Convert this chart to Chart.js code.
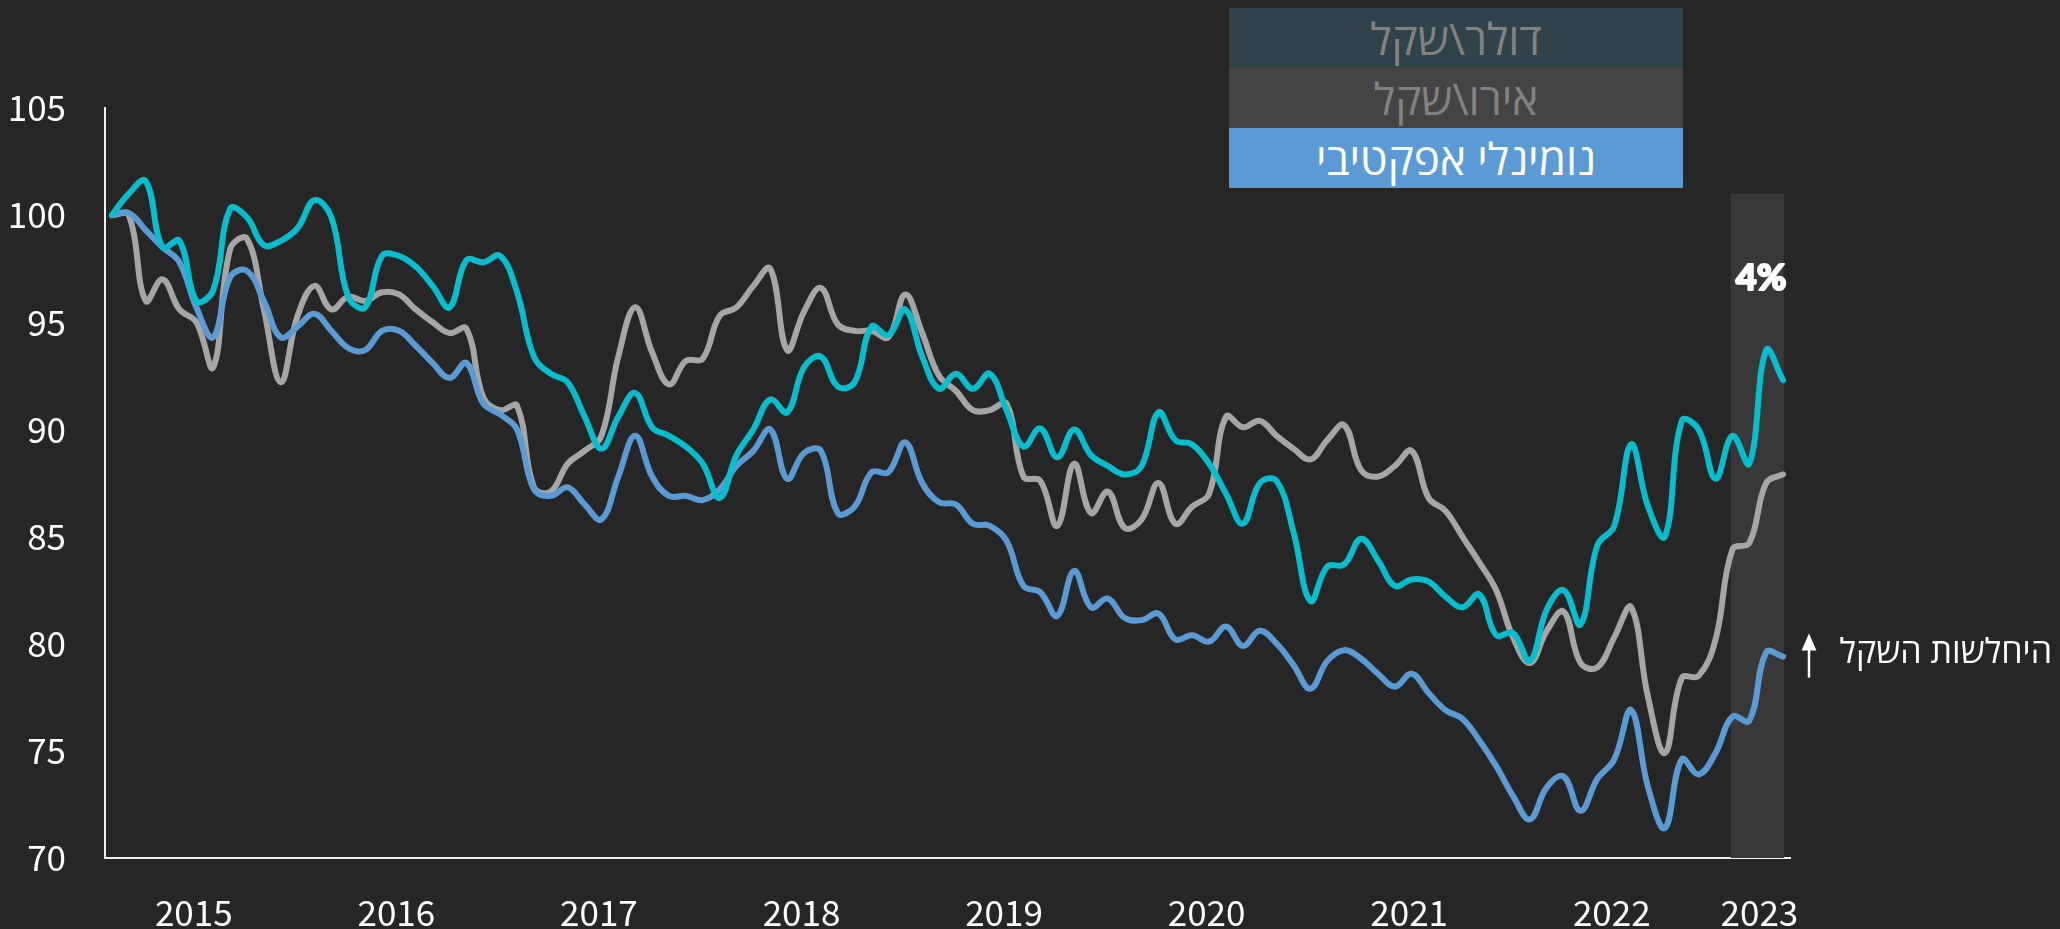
<!DOCTYPE html>
<html lang="he">
<head>
<meta charset="utf-8">
<script src="https://cdn.jsdelivr.net/npm/chart.js@4.4.0/dist/chart.umd.min.js"></script>
<style>
  html, body { margin: 0; padding: 0; background: #262626; }
  #wrap { position: relative; width: 2060px; height: 929px; }
  #legend { position: absolute; left: 1229px; top: 8px; width: 454px; }
  #legend div {
    height: 60px; line-height: 60px; text-align: center; direction: rtl;
    font: 44px "Open Sans", "Liberation Sans", sans-serif;
  }
</style>
</head>
<body>
<div id="wrap">
  <canvas id="fxChart" width="2060" height="929" style="width:2060px;height:929px"></canvas>
  <div id="legend"></div>
</div>
<script>
// monthly points, Jan 2015 .. Apr 2023 (index = month number)
const months = [];
for (let i = 0; i < 100; i++) {
  months.push((2015 + Math.floor(i / 12)) + '-' + String(i % 12 + 1).padStart(2, '0'));
}
const yearLabels = ['2015', '2016', '2017', '2018', '2019', '2020', '2021', '2022', '2023'];
const seriesNames = ['דולר\\שקל', 'אירו\\שקל', 'נומינלי אפקטיבי'];

// dollar / shekel
const usdIls = [
  100.0, 101.0, 101.6, 98.5, 98.8, 96.0, 96.5, 100.3, 99.9, 98.6, 98.8, 99.4,
  100.7, 99.9, 96.2, 95.7, 98.1, 98.1, 97.6, 96.7, 95.7, 97.9, 97.8, 98.1,
  96.4, 93.4, 92.6, 92.2, 90.6, 89.1, 90.6, 91.7, 90.1, 89.7, 89.2, 88.4,
  86.8, 88.8, 90.0, 91.4, 90.8, 92.9, 93.4, 92.0, 92.2, 94.8, 94.4, 95.6,
  93.4, 91.9, 92.6, 91.9, 92.6, 90.9, 89.2, 90.05, 88.7, 90.0, 88.8, 88.3,
  87.9, 88.3, 90.8, 89.5, 89.3, 88.4, 87.0, 85.6, 87.5, 87.6, 85.2, 82.0,
  83.6, 83.7, 84.9, 83.9, 82.7, 83.0, 82.9, 82.2, 81.7, 82.3, 80.4, 80.5,
  79.2, 81.6, 82.5, 80.9, 84.6, 85.5, 89.3, 86.4, 85.0, 90.4, 90.0, 87.7,
  89.7, 88.4, 93.7, 92.3
];
// euro / shekel
const eurIls = [
  100.0, 100.0, 96.0, 97.0, 95.6, 95.0, 92.9, 98.4, 98.9, 95.6, 92.2, 95.3,
  96.7, 95.6, 96.2, 96.0, 96.4, 96.3, 95.6, 95.0, 94.5, 94.7, 91.5, 90.9,
  91.1, 87.3, 87.1, 88.4, 89.0, 89.7, 93.4, 95.7, 93.6, 92.1, 93.2, 93.3,
  95.3, 95.7, 96.7, 97.5, 93.7, 95.5, 96.6, 94.9, 94.6, 94.6, 94.3, 96.3,
  94.5, 92.5, 91.8, 90.9, 90.9, 91.2, 87.8, 87.6, 85.5, 88.4, 86.1, 87.1,
  85.4, 85.8, 87.5, 85.6, 86.4, 87.0, 90.6, 90.1, 90.4, 89.7, 89.1, 88.6,
  89.5, 90.2, 88.1, 87.8, 88.3, 89.0, 86.8, 86.2, 85.0, 83.8, 82.5, 80.3,
  79.1, 80.6, 81.5, 79.1, 78.9, 80.3, 81.7, 77.5, 74.9, 78.4, 78.5, 80.2,
  84.4, 84.7, 87.5, 87.9
];
// nominal effective rate
const nominalEffective = [
  100.0, 100.1, 99.3, 98.5, 97.8, 95.7, 94.3, 97.1, 97.4, 96.0, 94.3, 94.8,
  95.4, 94.6, 93.8, 93.7, 94.6, 94.6, 93.9, 93.1, 92.4, 93.1, 91.2, 90.7,
  90.0, 87.2, 86.9, 87.3, 86.5, 85.8, 87.8, 89.7, 87.8, 86.9, 86.9, 86.7,
  87.2, 88.3, 89.0, 90.0, 87.7, 88.9, 89.0, 86.1, 86.4, 88.0, 88.0, 89.4,
  87.5, 86.6, 86.5, 85.6, 85.5, 84.8, 82.7, 82.4, 81.3, 83.4, 81.7, 82.1,
  81.2, 81.1, 81.4, 80.2, 80.4, 80.1, 80.8, 79.9, 80.6, 80.0, 79.0, 77.9,
  79.2, 79.7, 79.3, 78.6, 78.0, 78.6, 77.7, 76.9, 76.5, 75.5, 74.3, 72.9,
  71.8, 73.3, 73.8, 72.2, 73.7, 74.6, 76.9, 73.3, 71.4, 74.6, 73.9, 74.9,
  76.6, 76.4, 79.6, 79.4
];

const colors = ['#08bdcd', '#a6a6a6', '#5b9bd5'];
const legendBg = ['#2e434a', '#444444', '#5b9bd5'];
const legendFg = ['#828282', '#828282', '#ffffff'];

const legend = document.getElementById('legend');
seriesNames.forEach((name, k) => {
  const row = document.createElement('div');
  row.textContent = name;
  row.style.background = legendBg[k];
  row.style.color = legendFg[k];
  legend.appendChild(row);
});

const toPoints = arr => arr.map((v, i) => ({ x: i, y: v }));

const notes = {
  id: 'notes',
  beforeDatasetsDraw(chart, args, opts) {
    const { ctx, scales: { x, y } } = chart;
    const l = x.getPixelForValue(opts.bandFrom);
    const r = x.getPixelForValue(opts.bandTo);
    const t = y.getPixelForValue(opts.bandTop);
    const b = y.getPixelForValue(y.min);
    ctx.save();
    ctx.fillStyle = '#383838';
    ctx.fillRect(l, t, r - l, b - t);
    ctx.restore();
  },
  afterDraw(chart, args, opts) {
    const { ctx, chartArea, scales: { x, y } } = chart;
    ctx.save();
    ctx.fillStyle = '#ffffff';
    ctx.strokeStyle = '#ffffff';
    // heavy "4%" label over the 2023 band
    ctx.font = '900 36px "Lato", "Noto Sans CJK SC", sans-serif';
    ctx.textAlign = 'center';
    ctx.textBaseline = 'middle';
    ctx.lineWidth = 2;
    ctx.lineJoin = 'round';
    const cx = x.getPixelForValue(opts.changeAt[0]);
    const cy = y.getPixelForValue(opts.changeAt[1]);
    ctx.strokeText(opts.changeText, cx, cy);
    ctx.fillText(opts.changeText, cx, cy);

    const ay = y.getPixelForValue(nominalEffective[nominalEffective.length - 1]) - 3;
    const ax = chartArea.right + 19;
    ctx.lineWidth = 2.5;
    ctx.beginPath();
    ctx.moveTo(ax, ay + 24);
    ctx.lineTo(ax, ay - 8);
    ctx.stroke();
    ctx.beginPath();
    ctx.moveTo(ax, ay - 20);
    ctx.lineTo(ax - 7.5, ay - 3);
    ctx.lineTo(ax + 7.5, ay - 3);
    ctx.closePath();
    ctx.fill();

    ctx.font = '34px "Open Sans", "Liberation Sans", sans-serif';
    ctx.direction = 'rtl';
    ctx.textAlign = 'right';
    ctx.fillText(opts.noteText, chart.width - 8, ay);
    ctx.restore();
  }
};

const tickFont = { family: '"Noto Sans CJK SC", "Source Sans Pro", sans-serif', size: 35 };

new Chart(document.getElementById('fxChart'), {
  type: 'line',
  data: {
    datasets: [
      { label: seriesNames[0], data: toPoints(usdIls), borderColor: colors[0], order: 1 },
      { label: seriesNames[1], data: toPoints(eurIls), borderColor: colors[1], order: 3 },
      { label: seriesNames[2], data: toPoints(nominalEffective), borderColor: colors[2], order: 2 }
    ]
  },
  options: {
    responsive: false,
    animation: false,
    devicePixelRatio: 1,
    layout: { padding: { left: 0, right: 270, top: 108, bottom: 0 } },
    elements: {
      line: { borderWidth: 6, tension: 0.4, fill: false, borderCapStyle: 'round', borderJoinStyle: 'round' },
      point: { radius: 0 }
    },
    scales: {
      x: {
        type: 'linear',
        min: -0.41,
        max: 99.41,
        grid: { display: false, drawTicks: false },
        border: { display: true, color: '#f0f0f0', width: 2 },
        afterBuildTicks: s => {
          s.ticks = [4.85, 16.85, 28.85, 40.85, 52.85, 64.85, 76.85, 88.85, 97.6].map(v => ({ value: v }));
        },
        afterFit: s => { s.height = 71; },
        ticks: {
          autoSkip: false, maxRotation: 0, padding: 34,
          color: '#ffffff', font: tickFont,
          callback: (v, i) => yearLabels[i]
        }
      },
      y: {
        min: 70,
        max: 105,
        grid: { display: false, drawTicks: false },
        border: { display: true, color: '#f0f0f0', width: 2 },
        afterFit: s => { s.width = 105; },
        ticks: { stepSize: 5, padding: 39, color: '#ffffff', font: tickFont }
      }
    },
    plugins: {
      legend: { display: false },
      tooltip: { enabled: false },
      notes: {
        bandFrom: 95.9, bandTo: 99.05, bandTop: 101,
        changeText: '4%', changeAt: [97.7, 97.05],
        noteText: 'היחלשות השקל'
      }
    }
  },
  plugins: [notes]
});
</script>
</body>
</html>
